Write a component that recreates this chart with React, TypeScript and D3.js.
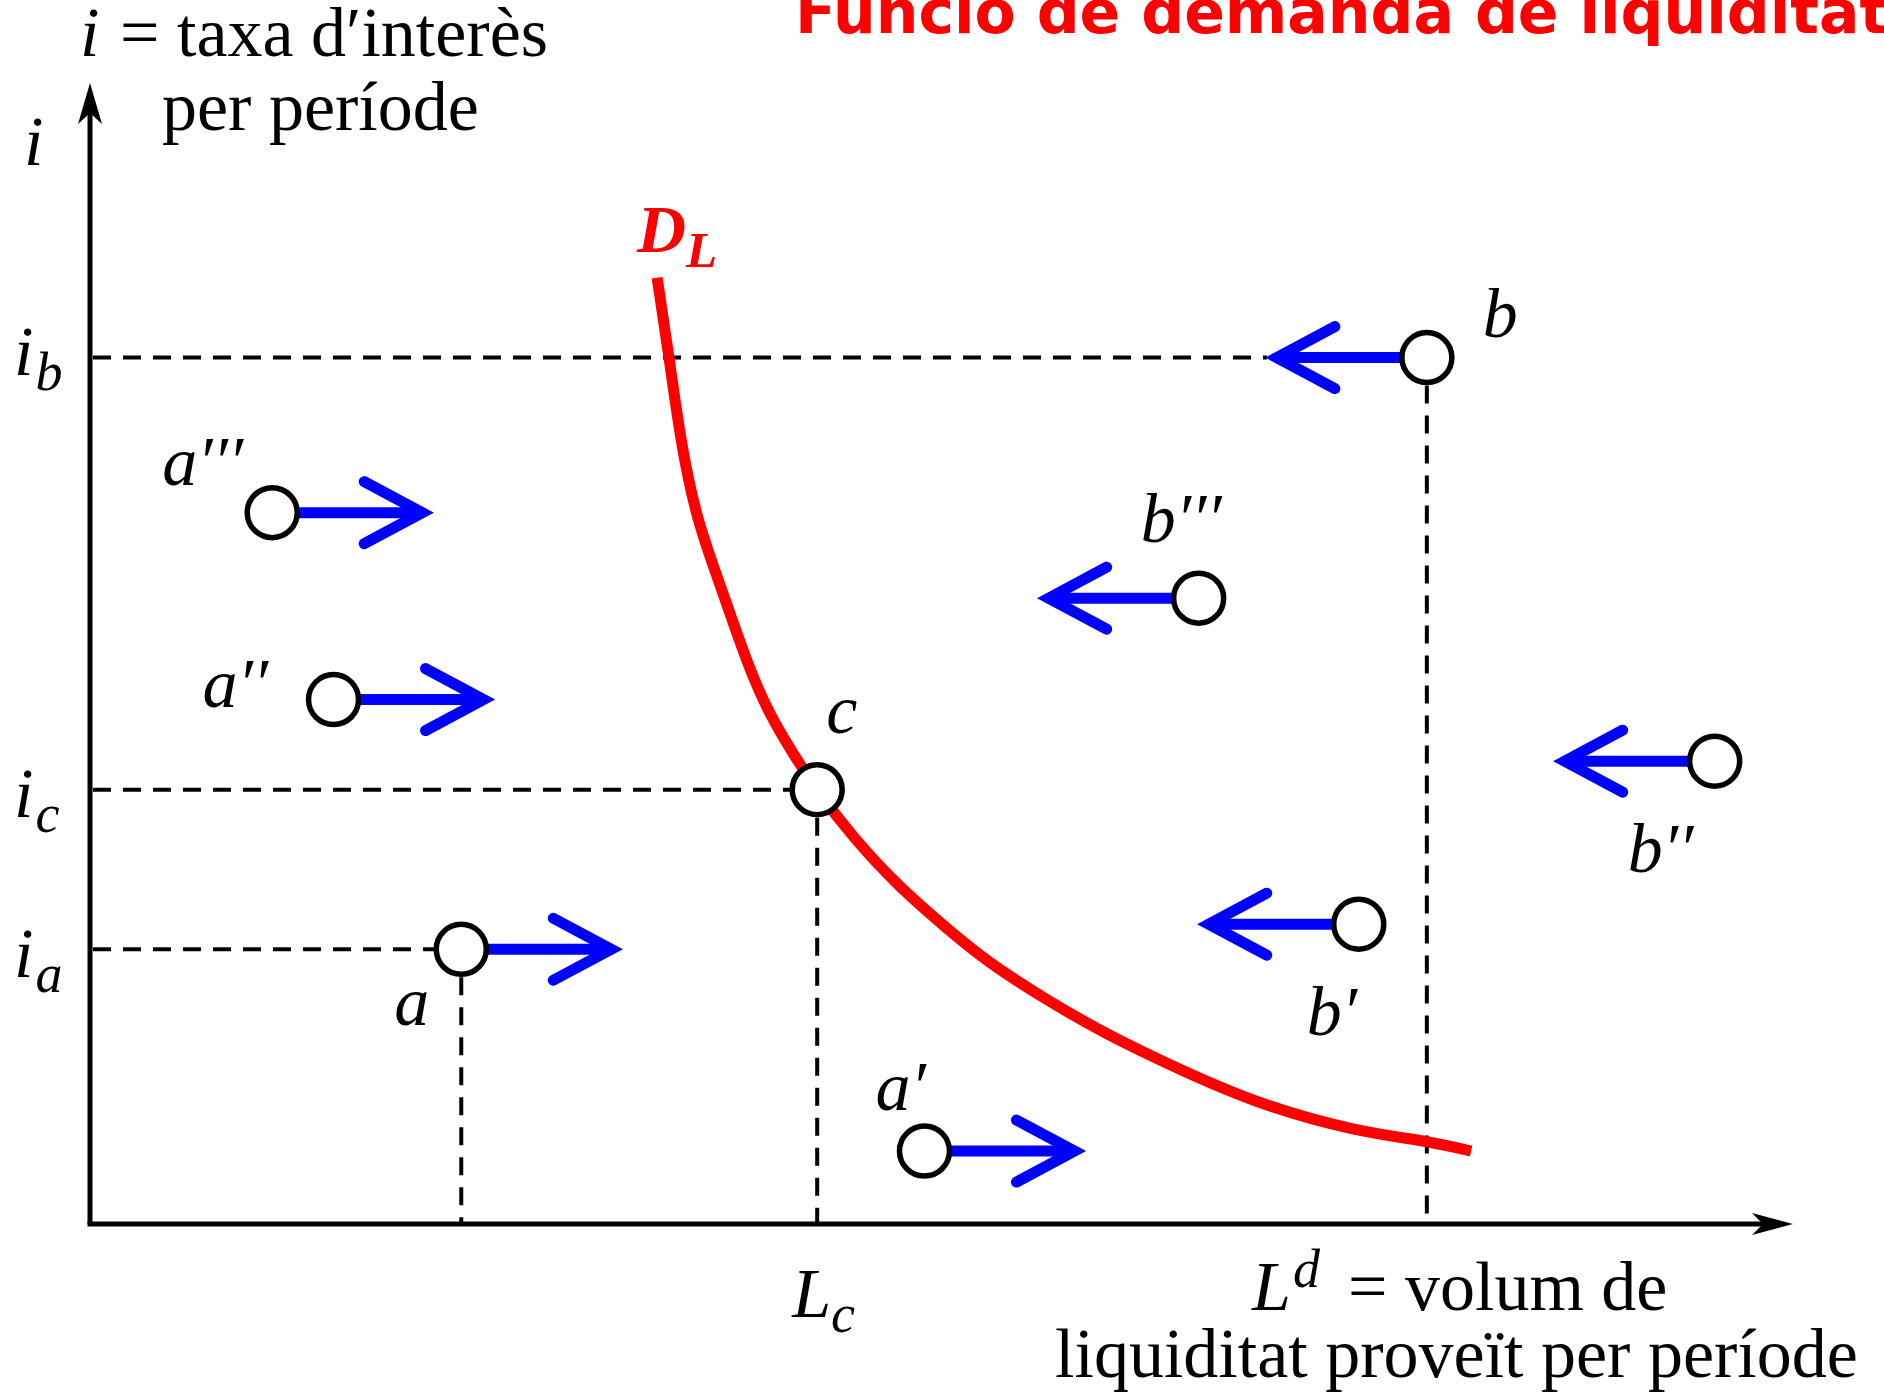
import React from "react";
import * as d3 from "d3";

// ---- data (L = liquidity volume, i = interest rate, arbitrary units 0..100) ----
const curveL = [33.3, 34.0, 34.7, 35.6, 36.7, 37.8, 38.8, 39.9, 41.3, 42.7, 44.8, 47.6, 50.5, 52.6, 56.1, 59.6, 63.9, 68.8, 74.4, 78.5, 81.1];
const curveI = [83.0, 76.1, 68.4, 62.0, 57.3, 52.6, 48.4, 44.7, 41.2, 38.0, 33.9, 29.4, 25.7, 23.1, 19.7, 16.7, 13.6, 10.4, 8.1, 7.3, 6.4];

const pointNames = ["a", "a′", "a′′", "a′′′", "b", "b′", "b′′", "b′′′", "c"];
const pointL = [21.8, 49.0, 14.3, 10.7, 78.5, 74.5, 95.4, 65.1, 42.7];
const pointI = [24.1, 6.4, 46.0, 62.4, 76.0, 26.3, 40.6, 54.9, 38.1];
const pointDir = [1, 1, 1, 1, -1, -1, -1, -1, 0];

const refPoints = ["a", "c", "b"]; // points with guide lines to both axes
const yTickSubs = ["a", "c", "b"];

const W = 1884;
const H = 1397;

// layout: label offsets relative to the point centre (px)
const labelOffset: Record<string, [number, number]> = {
  "a": [-67, 76],
  "a′": [-49, -41],
  "a′′": [-131, 7],
  "a′′′": [-110, -28],
  "b": [56, -21],
  "b′": [-52, 111],
  "b′′": [-87, 111],
  "b′′′": [-58, -56],
  "c": [9, -57],
};
const yTickDy: Record<string, number> = { a: 28, c: 27, b: 17 };

export default function App() {
  const x = d3.scaleLinear().domain([0, 100]).range([90, 1793]);
  const y = d3.scaleLinear().domain([0, 100]).range([1224, 84]);

  const curveData = curveL.map((l, k) => [l, curveI[k]] as [number, number]);
  const line = d3
    .line<[number, number]>()
    .x((d) => x(d[0]))
    .y((d) => y(d[1]))
    .curve(d3.curveBasis);

  const pts = pointNames.map((n, k) => ({ name: n, L: pointL[k], I: pointI[k], dir: pointDir[k] }));
  const byName = (n: string) => pts.find((p) => p.name === n)!;

  const R = 25;
  const arrowLen = 150;
  const serif = "'Liberation Serif', 'Times New Roman', serif";
  const dash = "18,12";
  const x0 = x(0);
  const y0 = y(0);

  const bArrowTip = x(byName("b").L) - arrowLen - 10;

  return (
    <svg
      width={W}
      height={H}
      viewBox={`0 0 ${W} ${H}`}
      style={{ position: "absolute", left: 0, top: 0, background: "#fff", overflow: "hidden" }}
    >
      <rect x={0} y={0} width={W} height={H} fill="#fff" />

      {/* guide lines */}
      {refPoints.map((n) => {
        const p = byName(n);
        const px = x(p.L);
        const py = y(p.I);
        const hx2 = n === "b" ? bArrowTip : px - R;
        return (
          <g key={"g" + n} stroke="#000" strokeWidth={4} strokeDasharray={dash} fill="none">
            <line x1={x0 + 3} y1={py} x2={hx2} y2={py} />
            <line x1={px} y1={py + R + 3} x2={px} y2={y0} />
          </g>
        );
      })}

      {/* axes */}
      <line x1={x0} y1={y0} x2={x0} y2={112} stroke="#000" strokeWidth={5} />
      <path d={`M${x0},83 L${x0 - 12},124 L${x0},113 L${x0 + 12},124 Z`} fill="#000" />
      <line x1={x0 - 2.5} y1={y0} x2={1765} y2={y0} stroke="#000" strokeWidth={5} />
      <path d={`M1793,${y0} L1752,${y0 - 11} L1763,${y0} L1752,${y0 + 11} Z`} fill="#000" />

      {/* demand curve */}
      <path d={line(curveData) || ""} fill="none" stroke="#ff0000" strokeWidth={11} />

      {/* arrows */}
      {pts
        .filter((p) => p.dir !== 0)
        .map((p) => {
          const cx = x(p.L);
          const cy = y(p.I);
          const tip = cx + p.dir * arrowLen;
          const back = tip - p.dir * 58;
          return (
            <g key={"ar" + p.name} stroke="#0000ff" fill="none">
              <line x1={cx} y1={cy} x2={tip - p.dir * 4} y2={cy} strokeWidth={11} />
              <path
                d={`M${back},${cy - 31} L${tip},${cy} L${back},${cy + 31}`}
                strokeWidth={11}
                strokeLinecap="round"
                strokeLinejoin="miter"
              />
            </g>
          );
        })}

      {/* circles */}
      {pts.map((p) => (
        <circle key={"c" + p.name} cx={x(p.L)} cy={y(p.I)} r={R} fill="#fff" stroke="#000" strokeWidth={5.5} />
      ))}

      {/* point labels */}
      {pts.map((p) => {
        const o = labelOffset[p.name];
        return (
          <text
            key={"t" + p.name}
            x={x(p.L) + o[0]}
            y={y(p.I) + o[1]}
            fontFamily={serif}
            fontStyle="italic"
            fontSize={70}
            fill="#000"
          >
            {p.name}
          </text>
        );
      })}

      {/* D_L label */}
      <text x={637} y={252} fontFamily={serif} fontStyle="italic" fontWeight="bold" fontSize={68} fill="#ff0000">
        D
        <tspan fontSize={51} dy={15}>L</tspan>
      </text>

      {/* y-axis tick labels */}
      {yTickSubs.map((s) => {
        const p = byName(s);
        return (
          <text key={"yt" + s} x={14} y={y(p.I) + yTickDy[s]} fontFamily={serif} fontStyle="italic" fontSize={70} fill="#000">
            i
            <tspan fontSize={54} dy={15} dx={2}>{s}</tspan>
          </text>
        );
      })}

      {/* x-axis tick label L_c */}
      <text x={x(byName("c").L) - 25} y={1317} fontFamily={serif} fontStyle="italic" fontSize={70} fill="#000">
        L
        <tspan fontSize={54} dy={15}>c</tspan>
      </text>

      {/* y axis titles */}
      <text x={24} y={165} fontFamily={serif} fontStyle="italic" fontSize={70} fill="#000">i</text>
      <text x={80} y={56} fontFamily={serif} fontStyle="italic" fontSize={70} fill="#000">i</text>
      <text x={120} y={56} fontFamily={serif} fontSize={70} fill="#000">= taxa d′interès</text>
      <text x={162} y={130} fontFamily={serif} fontSize={70} fill="#000">per període</text>

      {/* x axis titles */}
      <text x={1252} y={1310} fontFamily={serif} fontStyle="italic" fontSize={70} fill="#000">
        L
        <tspan fontSize={54} dy={-23} dx={2}>d</tspan>
      </text>
      <text x={1348} y={1310} fontFamily={serif} fontSize={70} fill="#000">= volum de</text>
      <text x={1055} y={1377} fontFamily={serif} fontSize={70} fill="#000">liquiditat proveït per període</text>

      {/* title */}
      <text
        x={795}
        y={33}
        fontFamily="'DejaVu Sans', sans-serif"
        fontWeight={700}
        fontSize={60}
        fill="#ff0000"
      >
        Funció de demanda de liquiditat
      </text>
    </svg>
  );
}
